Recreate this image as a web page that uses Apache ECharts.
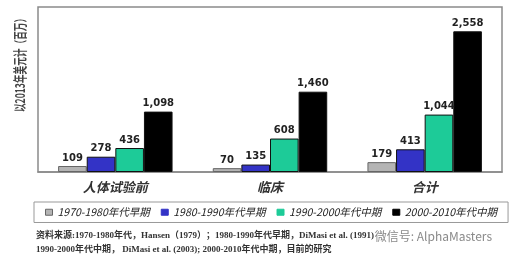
<!DOCTYPE html>
<html><head><meta charset="utf-8">
<script src="https://cdn.jsdelivr.net/npm/echarts@6/dist/echarts.min.js"></script>
<style>html,body{margin:0;padding:0;background:#fff}#c{width:517px;height:261px}</style>
</head><body><div id="c"></div>
<script>
const categories = ['人体试验前', '临床', '合计'];
const seriesNames = ['1970-1980年代早期', '1980-1990年代早期', '1990-2000年代中期', '2000-2010年代中期'];
const s1970 = [109, 70, 179];
const s1980 = [278, 135, 413];
const s1990 = [436, 608, 1044];
const s2000 = [1098, 1460, 2558];
const yAxisTitle = '以2013年美元计（百万）';
const sourceLine1 = '资料来源:1970-1980年代，Hansen（1979）；1980-1990年代早期，DiMasi et al. (1991)';
const sourceLine2 = '1990-2000年代中期， DiMasi et al. (2003); 2000-2010年代中期，目前的研究';
const watermark = '微信号: AlphaMasters';

const colors = ['#b4b4b4', '#3333c6', '#1dcb98', '#000000'];
const dataSets = [s1970, s1980, s1990, s2000];

const chart = echarts.init(document.getElementById('c'));
chart.setOption({
  animation: false,
  grid: { left: 38, top: 7, right: 15, bottom: 89, show: true, borderColor: '#8a8a8a', borderWidth: 1.5, backgroundColor: 'transparent' },
  legend: {
    left: 34, top: 202, width: 478,
    padding: [5, 11],
    itemWidth: 7, itemHeight: 6, itemGap: 11,
    borderColor: '#999', borderWidth: 1,
    textStyle: { fontSize: 10.5, fontStyle: 'italic', color: '#222', fontFamily: 'Noto Sans CJK SC' },
    data: seriesNames.map((n, i) => ({ name: n, icon: 'rect', itemStyle: { color: colors[i], borderColor: i === 0 ? '#666' : colors[i], borderWidth: 1 } }))
  },
  xAxis: {
    type: 'category', data: categories,
    axisLine: { show: true, lineStyle: { color: '#8a8a8a', width: 1.5 } },
    axisTick: { show: false },
    axisLabel: { margin: 9, fontSize: 13, fontWeight: 'bold', fontStyle: 'italic', color: '#333', fontFamily: 'Noto Sans CJK SC' }
  },
  yAxis: {
    type: 'value', min: 0, max: 3000,
    axisLabel: { show: false }, axisTick: { show: false }, axisLine: { show: false }, splitLine: { show: false }
  },
  series: dataSets.map((d, i) => ({
    name: seriesNames[i], type: 'bar', data: d,
    barGap: '0%', barCategoryGap: '26%',
    itemStyle: { color: colors[i], borderColor: i === 0 ? '#666' : '#111', borderWidth: 1 },
    label: {
      show: true, position: 'top', distance: 3,
      formatter: p => p.value.toLocaleString('en-US'),
      fontSize: 10, fontWeight: 'bold', color: '#222', fontFamily: 'DejaVu Sans'
    }
  })),
  graphic: [
    { type: 'text', x: 20, y: 63, rotation: Math.PI / 2, scaleX: 0.72, scaleY: 1.1,
      style: { text: yAxisTitle, fontSize: 12, fontWeight: 'bold', fill: '#444', align: 'center', verticalAlign: 'middle', fontFamily: 'Noto Sans CJK SC' } },
    { type: 'text', x: 36, y: 236,
      style: { text: sourceLine1, fontSize: 9, fontWeight: 'bold', fill: '#333', verticalAlign: 'middle', fontFamily: 'Liberation Serif, Noto Sans CJK SC' } },
    { type: 'text', x: 36, y: 250,
      style: { text: sourceLine2, fontSize: 9, fontWeight: 'bold', fill: '#333', verticalAlign: 'middle', fontFamily: 'Liberation Serif, Noto Sans CJK SC' } },
    { type: 'text', x: 492, y: 236,
      style: { text: watermark, fontSize: 12, fill: '#8a8a8a', align: 'right', verticalAlign: 'middle', fontFamily: 'Noto Sans CJK SC' } }
  ]
});
</script></body></html>
